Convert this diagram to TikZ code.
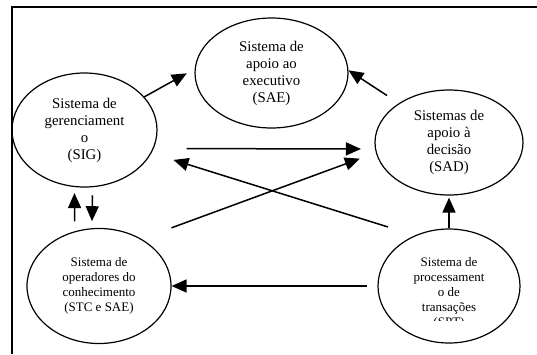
\documentclass[tikz,border=0pt]{standalone}
\usepackage{fontspec}
\setmainfont{Liberation Serif}
\usetikzlibrary{shapes.geometric, arrows.meta}
\tikzset{
    sysnode/.style = {ellipse, draw, line width=1.2pt, inner sep=0pt, align=center, font=\fontsize{14.8}{17}\selectfont},
    smallnode/.style = {sysnode, font=\fontsize{13}{15}\selectfont},
    smalltext/.style = {inner sep=0pt, align=center, font=\fontsize{13}{15}\selectfont},
    arrow/.style = {line width=1.5pt, -{Triangle[length=15pt, width=13pt]}},
    frame/.style = {line width=1.3pt}
}

\begin{document}
\begin{tikzpicture}[x=1pt, y=-1pt]
\useasboundingbox (0,0) rectangle (537,354);
\draw [frame] (537,7) -- (12,7) -- (12,354);

\node (sae) [sysnode, minimum width=153pt, minimum height=110pt] at (271.5,73) {Sistema de\\apoio ao\\executivo\\(SAE)};
\node (sig) [sysnode, minimum width=145pt, minimum height=114pt] at (84.5,130) {Sistema de\\gerenciament\\o\\(SIG)};
\node (sad) [sysnode, minimum width=148pt, minimum height=105pt] at (449,142.5) {Sistemas de\\apoio à\\decisão\\(SAD)};
\node (stc) [smallnode, minimum width=144pt, minimum height=115pt] at (99,286) {Sistema de\\operadores do\\conhecimento\\(STC e SAE)};
\node (spt) [smallnode, minimum width=142pt, minimum height=114pt] at (449,286) {};
\begin{scope}
\clip (378,200) rectangle (520,320.5);
\node (spttext) [smalltext, anchor=north] at (449,257) {Sistema de\\processament\\o de\\transações\\(SPT)};
\end{scope}

\draw [arrow, shorten >=9pt] (sig.29) -- (sae.177);
\draw [arrow, shorten <=14pt] (sad.142) -- (sae.2);
\draw [arrow, shorten <=33pt, shorten >=14pt] (sig.-15) -- (sad.185);
\draw [arrow, shorten <=28pt, shorten >=23pt] (spt.124) -- (sig.-19);
\draw [arrow, shorten <=32pt, shorten >=17pt] (stc.48) -- (sad.188);
\draw [arrow, shorten <=10pt, shorten >=6pt] (stc.114) -- (sig.-100);
\draw [arrow, shorten <=8pt, shorten >=7pt] (sig.-82) -- (stc.97);
\draw [arrow, shorten >=2pt] (spt.north) -- (sad.south);
\draw [arrow, shorten <=10pt] (spt.west) -- (stc.east);
\end{tikzpicture}
\end{document}
